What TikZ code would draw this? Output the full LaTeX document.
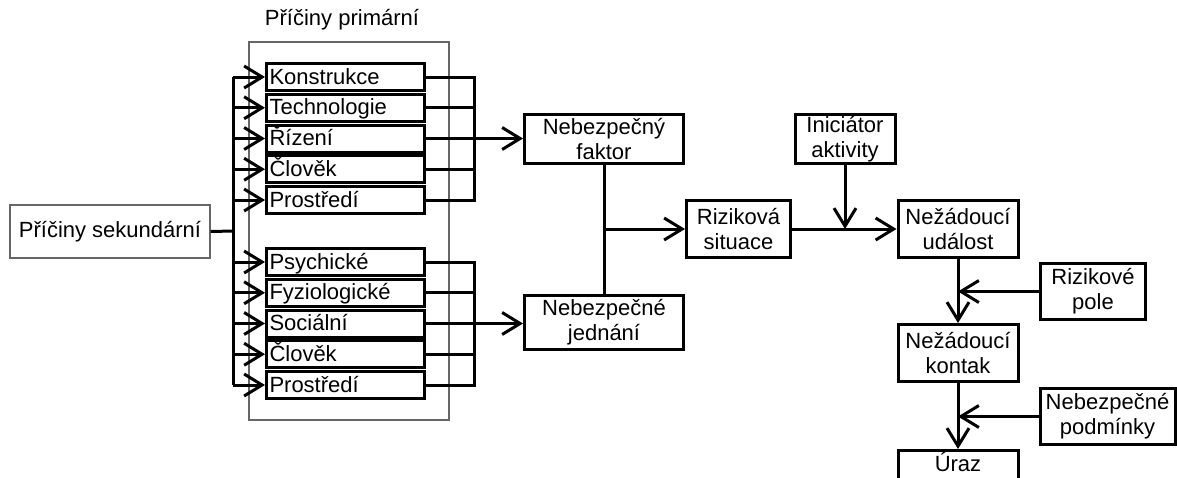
\documentclass[tikz,border=0pt]{standalone}
\usepackage{fontspec}
\setmainfont{Liberation Sans}
\usetikzlibrary{arrows.meta}

\tikzset{
    thinbox/.style={draw=black!60, line width=1.3pt, inner sep=0pt},
    itembox/.style={draw, line width=3pt, fill=white, minimum height=27pt, text width=152pt, align=left,
        inner xsep=3pt, inner ysep=0pt, text height=17pt, text depth=3pt},
    stepbox/.style={draw, line width=3pt, fill=white, align=center, inner sep=0pt},
    conn/.style={line width=3pt},
    arr/.style={line width=3pt, -{Straight Barb[length=18pt, width=22pt]}},
}

\begin{document}
\begin{tikzpicture}[x=1pt, y=-1pt, font=\fontsize{22}{25}\selectfont]
    \useasboundingbox (0,0) rectangle (1177,477);

    % secondary and primary causes
    \node[thinbox, minimum width=200pt, minimum height=53pt] (sek) at (110,231.5) {Příčiny sekundární};
    \node[thinbox, minimum width=200pt, minimum height=378pt] (prim) at (349,231) {};
    \node (primtitle) at (342,20) {Příčiny primární};

    \node[itembox] (konstrukce) at (345.5,77) {Konstrukce};
    \node[itembox] (technologie) at (345.5,107.75) {Technologie};
    \node[itembox] (rizeni) at (345.5,138.5) {Řízení};
    \node[itembox] (clovek1) at (345.5,169.25) {Člověk};
    \node[itembox] (prostredi1) at (345.5,200) {Prostředí};

    \node[itembox] (psychicke) at (345.5,262) {Psychické};
    \node[itembox] (fyziologicke) at (345.5,292.75) {Fyziologické};
    \node[itembox] (socialni) at (345.5,323.5) {Sociální};
    \node[itembox] (clovek2) at (345.5,354.25) {Člověk};
    \node[itembox] (prostredi2) at (345.5,385) {Prostředí};

    % chain of events
    \node[stepbox, minimum width=159pt, minimum height=49pt] (faktor) at (604,139) {Nebezpečný\\faktor};
    \node[stepbox, minimum width=159pt, minimum height=54pt] (jednani) at (604,322.5) {Nebezpečné\\jednání};
    \node[stepbox, minimum width=104pt, minimum height=57pt] (situace) at (738.5,229) {Riziková\\situace};
    \node[stepbox, minimum width=100pt, minimum height=49pt] (iniciator) at (845,139) {Iniciátor\\aktivity};
    \node[stepbox, minimum width=120pt, minimum height=57pt] (udalost) at (958,229) {Nežádoucí\\událost};
    \node[stepbox, minimum width=105pt, minimum height=56pt] (rpole) at (1093,291.5) {Rizikové\\pole};
    \node[stepbox, minimum width=120pt, minimum height=57pt] (kontak) at (958,353) {Nežádoucí\\kontak};
    \node[stepbox, minimum width=135pt, minimum height=56pt] (podminky) at (1107.5,416.5) {Nebezpečné\\podmínky};
    \node[stepbox, minimum width=120pt, minimum height=57pt, text height=16pt, text depth=32pt] (uraz) at (958,479) {Úraz};

    \coordinate (busL) at (233,231);
    \coordinate (busR) at (474,231);

    % left bus
    \draw[conn] (sek.east) -- (busL);
    \draw[conn] (konstrukce.west -| busL) -- (prostredi2.west -| busL);
    \draw[arr] (konstrukce.west -| busL) -- (konstrukce.west);
    \draw[arr] (technologie.west -| busL) -- (technologie.west);
    \draw[arr] (rizeni.west -| busL) -- (rizeni.west);
    \draw[arr] (clovek1.west -| busL) -- (clovek1.west);
    \draw[arr] (prostredi1.west -| busL) -- (prostredi1.west);
    \draw[arr] (psychicke.west -| busL) -- (psychicke.west);
    \draw[arr] (fyziologicke.west -| busL) -- (fyziologicke.west);
    \draw[arr] (socialni.west -| busL) -- (socialni.west);
    \draw[arr] (clovek2.west -| busL) -- (clovek2.west);
    \draw[arr] (prostredi2.west -| busL) -- (prostredi2.west);

    % right buses
    \draw[conn] (konstrukce.east) -- (konstrukce.east -| busR) -- (prostredi1.east -| busR) -- (prostredi1.east);
    \draw[conn] (technologie.east) -- (technologie.east -| busR);
    \draw[conn] (clovek1.east) -- (clovek1.east -| busR);
    \draw[arr] (rizeni.east) -- (rizeni.east -| faktor.west);
    \draw[conn] (psychicke.east) -- (psychicke.east -| busR) -- (prostredi2.east -| busR) -- (prostredi2.east);
    \draw[conn] (fyziologicke.east) -- (fyziologicke.east -| busR);
    \draw[conn] (clovek2.east) -- (clovek2.east -| busR);
    \draw[arr] (socialni.east) -- (socialni.east -| jednani.west);

    % events
    \draw[conn] (faktor.south) -- (jednani.north);
    \draw[arr] (faktor.south |- situace.west) -- (situace.west);
    \draw[arr] (situace.east) -- (udalost.west);
    \draw[arr] (iniciator.south) -- (iniciator.south |- situace.east);
    \draw[arr] (udalost.south) -- (kontak.north);
    \draw[arr] (rpole.west) -- (rpole.west -| udalost.south);
    \draw[arr] (kontak.south) -- (uraz.north);
    \draw[arr] (podminky.west) -- (podminky.west -| kontak.south);
\end{tikzpicture}
\end{document}
